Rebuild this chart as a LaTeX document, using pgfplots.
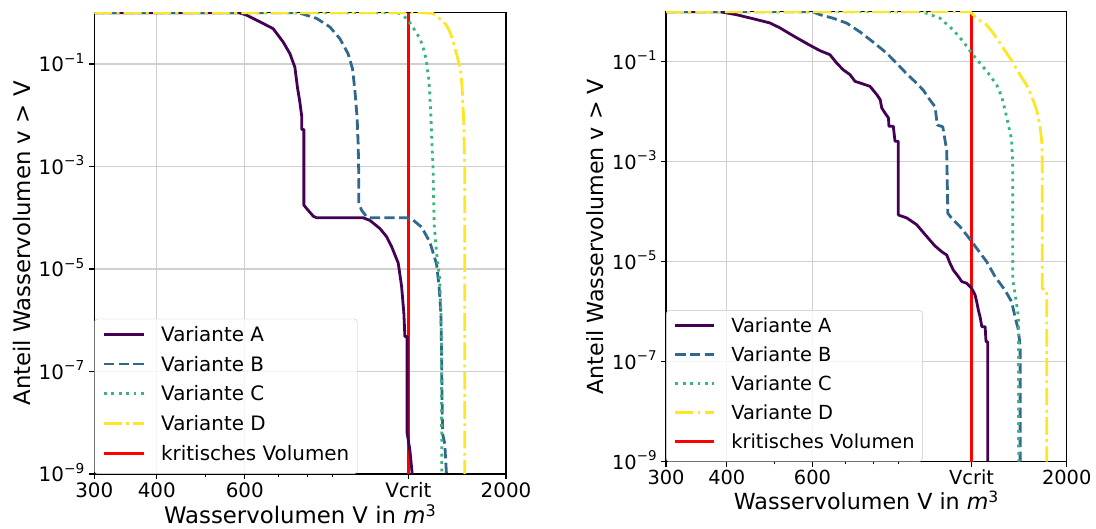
\documentclass[border=0pt]{standalone}
\usepackage{fontspec}
\setmainfont{DejaVu Sans}
\usepackage{pgfplots}
\pgfplotsset{compat=1.18}
\definecolor{vA}{HTML}{440154}
\definecolor{vB}{HTML}{31688E}
\definecolor{vC}{HTML}{35B779}
\definecolor{vD}{HTML}{FDE725}
\definecolor{gridc}{HTML}{D0D0D0}
\definecolor{legc}{HTML}{C4C4C4}
\newcommand\tpL[1]{\mbox{10\raisebox{8.8pt}{\fontsize{13.7}{14}\selectfont −#1}}}
\newcommand\tpR[1]{\mbox{10\raisebox{8.6pt}{\fontsize{13.4}{14}\selectfont −#1}}}
\tikzset{
  curveA/.style={draw=vA, line width=2.8pt, line join=round},
  curveB/.style={draw=vB, line width=2.8pt, line join=round, dash pattern=on 10.3pt off 4.4pt},
  curveC/.style={draw=vC, line width=2.8pt, line join=round, dash pattern=on 2.8pt off 4.6pt},
  curveD/.style={draw=vD, line width=2.8pt, line join=round, dash pattern=on 17.8pt off 4.4pt on 2.8pt off 4.4pt},
  curveR/.style={draw=red, line width=3.2pt},
}
\pgfplotsset{
  limL/.style={legend image code/.code={\draw[line width=2.8pt,##1] (0pt,7.2pt) -- (39.8pt,7.2pt); \path (55.7pt,7.2pt);}},
  limR/.style={legend image code/.code={\draw[line width=2.8pt,##1] (0pt,7pt) -- (38.8pt,7pt); \path (54.3pt,7pt);}},
}
\begin{document}
\begin{tikzpicture}
\path[use as bounding box] (0pt,0pt) rectangle (1096pt,529pt);
% ---------------- left panel ----------------
\begin{axis}[scale only axis, anchor=south west, at={(94.3pt,55pt)}, width=411.7pt, height=461.2pt,
  xmode=log, ymode=log,
  xmin=300, xmax=2000, ymin=1e-9, ymax=1,
  xtick={300,400,600,1275,2000},
  xticklabels={\mbox{300},\mbox{400},\mbox{600},\mbox{Vcrit},\mbox{2000}},
  minor xtick={500,700,800,900},
  ytick={1e-9,1e-7,1e-5,1e-3,1e-1},
  yticklabels={\tpL{9},\tpL{7},\tpL{5},\tpL{3},\tpL{1}},
  yminorticks=false,
  grid=major,
  major grid style={gridc, line width=1.1pt},
  tick align=outside, tick pos=left,
  major tick length=4.9pt, minor tick length=2.8pt,
  major tick style={black, line width=1.1pt},
  minor tick style={black, line width=0.8pt},
  axis line style={black, line width=1.1pt},
  xlabel={Wasservolumen V in \textit{m}\textsuperscript{3}},
  ylabel={Anteil Wasservolumen v > V},
  tick label style={font=\fontsize{19.9}{23}\selectfont},
  label style={font=\fontsize{22.8}{27}\selectfont},
  xticklabel style={anchor=base, inner sep=0pt, yshift=-18.4pt},
  yticklabel style={anchor=base east, inner sep=0pt, xshift=-5pt, yshift=-7.8pt},
  xlabel style={at={(axis description cs:0.5,-0.1084)}, anchor=base},
  ylabel style={at={(axis description cs:-0.155,0.5)}, anchor=base},
  limL,
  legend style={at={(0,0)}, anchor=south west, draw=legc, fill=white,
    fill opacity=0.8, draw opacity=1, text opacity=1, rounded corners=3pt,
    inner sep=8pt, row sep=9.95pt, column sep=0pt,
    font=\fontsize{19.9}{23}\selectfont,
    nodes={inner sep=0pt, text height=14.4pt, text depth=5.4pt, anchor=base west}},
]
\addplot[curveR, forget plot] coordinates {(1275,1e-9) (1275,1)};
\addplot[curveA] coordinates {(300,1) (585,1) (605,0.90) (653,0.62) (684,0.49) (716,0.27) (739,0.159) (756,0.0865) (765,0.035) (773,0.0191) (780,0.0097) (780,0.0053) (788,0.0053) (788,1.77e-4) (798,1.52e-4) (823,1.07e-4) (836,1e-4) (1035,1e-4) (1068,8.9e-5) (1118,6.2e-5) (1153,4.3e-5) (1180,2.76e-5) (1217,1.31e-5) (1236,4.6e-6) (1249,1.38e-6) (1255,4.8e-7) (1268,4.8e-7) (1268,6.3e-9) (1284,2.95e-9) (1298,1e-9)};
\addlegendentry{Variante A}
\addplot[curveB] coordinates {(300,1) (770,1) (836,0.776) (888,0.53) (930,0.313) (966,0.159) (986,0.0805) (997,0.030) (1007,0.009) (1012,0.0027) (1015,5.9e-4) (1015,1.9e-4) (1028,1.41e-4) (1052,1.04e-4) (1068,1e-4) (1265,1e-4) (1304,8.97e-5) (1355,6.6e-5) (1408,3.36e-5) (1452,1.25e-5) (1469,4.7e-6) (1481,1.4e-6) (1486,2.3e-7) (1490,2.4e-8) (1493,6.1e-9) (1508,3.9e-9) (1520,1e-9)};
\addlegendentry{Variante B}
\addplot[curveC] coordinates {(300,1) (1199,1) (1226,0.97) (1265,0.776) (1294,0.573) (1320,0.423) (1345,0.313) (1361,0.231) (1376,0.159) (1387,0.108) (1393,0.0745) (1401,0.0512) (1408,0.024) (1414,0.0112) (1419,0.0042) (1429,9.3e-4) (1433,2.0e-4) (1437,7e-5) (1452,2.1e-5) (1472,7e-6) (1481,1.8e-6) (1486,2.3e-7) (1487,1e-9)};
\addlegendentry{Variante C}
\addplot[curveD] coordinates {(300,1) (1376,1) (1429,0.97) (1486,0.718) (1520,0.573) (1549,0.393) (1572,0.25) (1592,0.159) (1611,0.101) (1624,0.069) (1634,0.035) (1641,0.0141) (1646,0.0077) (1654,8e-4) (1654,1e-9)};
\addlegendentry{Variante D}
\addlegendimage{curveR}
\addlegendentry{kritisches Volumen}
\end{axis}
% ---------------- right panel ----------------
\begin{axis}[scale only axis, anchor=south west, at={(666pt,67.3pt)}, width=400.7pt, height=450pt,
  xmode=log, ymode=log,
  xmin=300, xmax=2000, ymin=1e-9, ymax=1,
  xtick={300,400,600,1275,2000},
  xticklabels={\mbox{300},\mbox{400},\mbox{600},\mbox{Vcrit},\mbox{2000}},
  minor xtick={500,700,800,900},
  ytick={1e-9,1e-7,1e-5,1e-3,1e-1},
  yticklabels={\tpR{9},\tpR{7},\tpR{5},\tpR{3},\tpR{1}},
  yminorticks=false,
  grid=major,
  major grid style={gridc, line width=1.1pt},
  tick align=outside, tick pos=left,
  major tick length=4.9pt, minor tick length=2.8pt,
  major tick style={black, line width=1.1pt},
  minor tick style={black, line width=0.8pt},
  axis line style={black, line width=1.1pt},
  xlabel={Wasservolumen V in \textit{m}\textsuperscript{3}},
  ylabel={Anteil Wasservolumen v > V},
  tick label style={font=\fontsize{19.4}{23}\selectfont},
  label style={font=\fontsize{22.2}{26}\selectfont},
  xticklabel style={anchor=base, inner sep=0pt, yshift=-18.4pt},
  yticklabel style={anchor=base east, inner sep=0pt, xshift=-4.4pt, yshift=-7.6pt},
  xlabel style={at={(axis description cs:0.5,-0.1073)}, anchor=base},
  ylabel style={at={(axis description cs:-0.1572,0.5)}, anchor=base},
  limR,
  legend style={at={(0,0)}, anchor=south west, draw=legc, fill=white,
    fill opacity=0.8, draw opacity=1, text opacity=1, rounded corners=3pt,
    inner sep=7.8pt, row sep=9.7pt, column sep=0pt,
    font=\fontsize{19.4}{23}\selectfont,
    nodes={inner sep=0pt, text height=14pt, text depth=5.3pt, anchor=base west}},
]
\addplot[curveR, forget plot] coordinates {(1275,1e-9) (1275,1)};
\addplot[curveA] coordinates {(300,1) (387,1) (419,0.87) (454,0.72) (491,0.594) (515,0.472) (540,0.358) (566,0.275) (593,0.213) (622,0.166) (652,0.138) (673,0.094) (694,0.069) (717,0.055) (734,0.0405) (752,0.0375) (788,0.0322) (814,0.0219) (827,0.0174) (833,0.0119) (846,0.0094) (860,0.0075) (862,0.0051) (880,0.0051) (887,0.00256) (901,0.00256) (901,8.6e-5) (938,7.5e-5) (983,5.5e-5) (1020,3.6e-5) (1070,2.1e-5) (1107,1.58e-5) (1133,1.36e-5) (1151,9.3e-6) (1169,6.8e-6) (1198,5.0e-6) (1217,4.0e-6) (1246,3.7e-6) (1276,2.9e-6) (1296,2.16e-6) (1306,1.58e-6) (1316,1.08e-6) (1327,7.9e-7) (1338,5.0e-7) (1359,5.0e-7) (1365,2.5e-7) (1376,2.5e-7) (1376,1e-9)};
\addlegendentry{Variante A}
\addplot[curveB] coordinates {(300,1) (600,1) (622,0.87) (662,0.74) (706,0.59) (752,0.393) (801,0.244) (853,0.148) (894,0.093) (938,0.057) (983,0.037) (1014,0.027) (1047,0.0171) (1072,0.0126) (1084,0.0054) (1112,0.005) (1124,0.0027) (1133,0.0017) (1139,9.3e-5) (1160,7.4e-5) (1207,5.0e-5) (1246,3.4e-5) (1306,1.85e-5) (1369,1.0e-5) (1425,5.0e-6) (1493,2.7e-6) (1541,1.58e-6) (1566,7.9e-7) (1591,4.3e-7) (1604,2.0e-7) (1604,1e-9)};
\addlegendentry{Variante B}
\addplot[curveC] coordinates {(300,1) (1000,1) (1031,0.93) (1098,0.74) (1169,0.43) (1226,0.25) (1276,0.147) (1327,0.093) (1380,0.0586) (1436,0.0342) (1470,0.02) (1505,0.0079) (1541,0.0027) (1549,7.9e-4) (1549,4.3e-6) (1566,2.3e-6) (1591,7.9e-7) (1593,1e-9)};
\addlegendentry{Variante C}
\addplot[curveD] coordinates {(300,1) (1265,1) (1306,0.74) (1369,0.54) (1413,0.37) (1459,0.233) (1505,0.147) (1553,0.093) (1604,0.054) (1655,0.034) (1695,0.02) (1735,0.0108) (1763,0.005) (1777,0.0025) (1782,7.9e-4) (1782,2.9e-6) (1819,2.7e-6) (1819,1e-9)};
\addlegendentry{Variante D}
\addlegendimage{curveR}
\addlegendentry{kritisches Volumen}
\end{axis}
\end{tikzpicture}
\end{document}
